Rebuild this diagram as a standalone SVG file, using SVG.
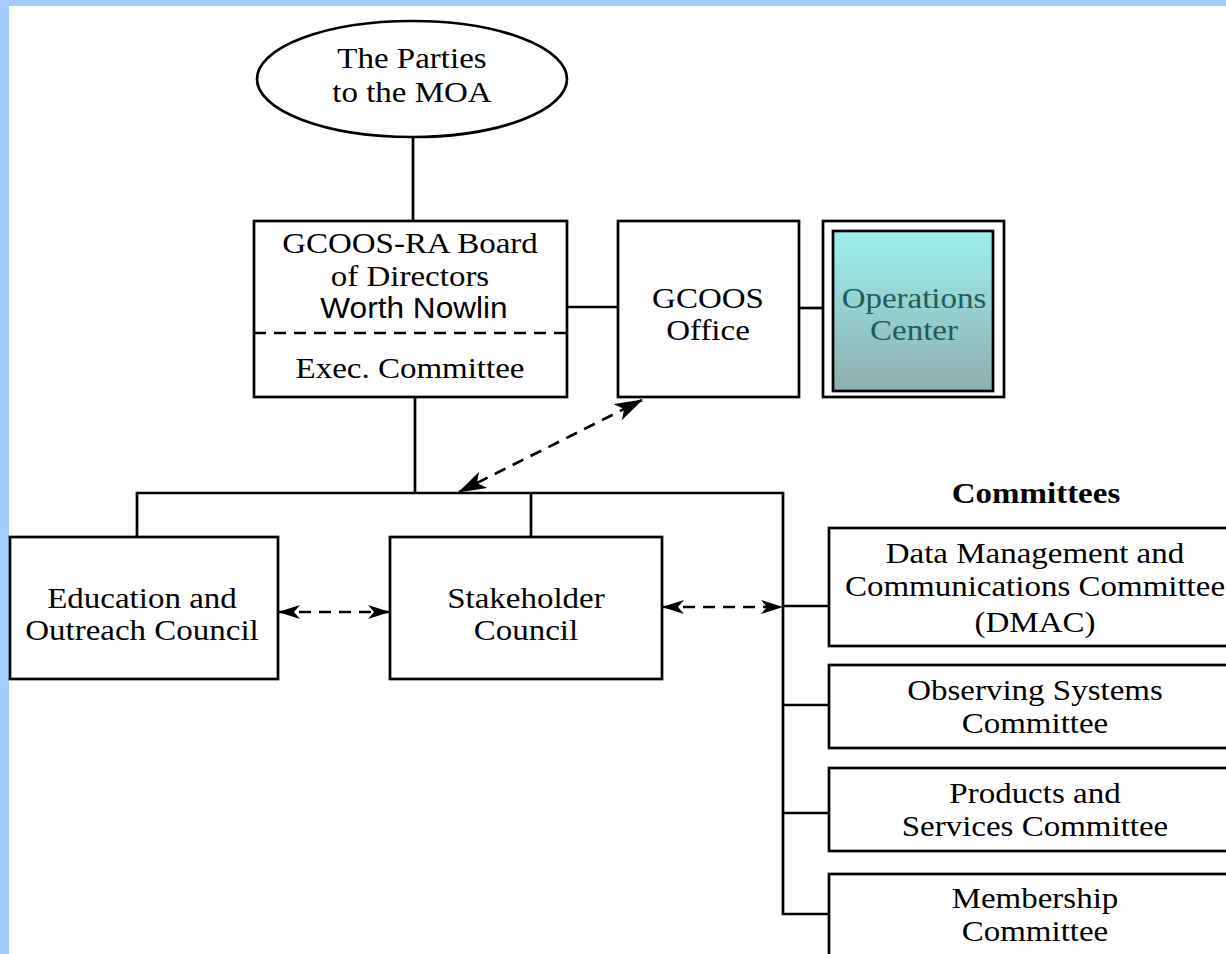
<svg xmlns="http://www.w3.org/2000/svg" width="1226" height="954" viewBox="0 0 1226 954">
<style>
.bx{fill:#fff;stroke:#000;stroke-width:2.7}
.ln{fill:none;stroke:#000;stroke-width:2.7}
.da{fill:none;stroke:#000;stroke-width:2.7;stroke-dasharray:12 8}
.t{font-family:"Liberation Serif","Times New Roman",serif;font-size:30px;fill:#000;text-anchor:middle;transform-box:fill-box;transform-origin:center;transform:scaleX(1.1)}
.s{font-family:"Liberation Sans",Arial,sans-serif;font-size:29px;fill:#000;text-anchor:middle;transform-box:fill-box;transform-origin:center;transform:scaleX(1.09)}
.b{font-weight:bold}
.op{fill:#1f5c5c}
</style>
<defs>
<linearGradient id="g" x1="0" y1="0" x2="0" y2="1">
<stop offset="0" stop-color="#9bf0f0"/>
<stop offset="1" stop-color="#8eafaf"/>
</linearGradient>
<marker id="aL" viewBox="0 0 28 18" markerWidth="28" markerHeight="18" refX="27" refY="9" orient="auto-start-reverse" markerUnits="userSpaceOnUse">
<path d="M0,0 L28,9 L0,18 L7,9 z" fill="#000"/>
</marker>
<marker id="aS" viewBox="0 0 22 14" markerWidth="22" markerHeight="14" refX="21" refY="7" orient="auto-start-reverse" markerUnits="userSpaceOnUse">
<path d="M0,0 L22,7 L0,14 L6,7 z" fill="#000"/>
</marker>
</defs>
<rect x="0" y="0" width="1226" height="954" fill="#fff"/>
<rect x="0" y="0" width="1226" height="6" fill="#a3cdfe"/>
<rect x="0" y="0" width="9" height="954" fill="#a3cdfe"/>

<g id="connectors">
<line class="ln" x1="413" y1="137" x2="413" y2="221"/>
<line class="ln" x1="567" y1="307" x2="618" y2="307"/>
<line class="ln" x1="799" y1="308" x2="823" y2="308"/>
<line class="ln" x1="415" y1="397" x2="415" y2="493"/>
<polyline class="ln" points="137,537 137,493 783,493 783,914 829,914"/>
<line class="ln" x1="531" y1="493" x2="531" y2="537"/>
<line class="ln" x1="783" y1="606" x2="829" y2="606"/>
<line class="ln" x1="783" y1="705" x2="829" y2="705"/>
<line class="ln" x1="783" y1="813" x2="829" y2="813"/>
<line class="da" x1="459" y1="492" x2="642" y2="400" marker-start="url(#aL)" marker-end="url(#aL)"/>
<line class="da" x1="279" y1="612" x2="389" y2="612" marker-start="url(#aS)" marker-end="url(#aS)"/>
<line class="da" x1="663" y1="607" x2="782" y2="607" marker-start="url(#aS)" marker-end="url(#aS)"/>
</g>

<g id="parties">
<ellipse cx="412" cy="79" rx="155" ry="58" class="bx"/>
<text class="t" x="412" y="68">The Parties</text>
<text class="t" x="412" y="102">to the MOA</text>
</g>

<g id="board">
<rect class="bx" x="254" y="221" width="313" height="176"/>
<line class="da" x1="254" y1="333" x2="567" y2="333"/>
<text class="t" x="410" y="253">GCOOS-RA Board</text>
<text class="t" x="410" y="286">of Directors</text>
<text class="s" x="414" y="318">Worth Nowlin</text>
<text class="t" x="410" y="378">Exec. Committee</text>
</g>

<g id="office">
<rect class="bx" x="618" y="221" width="181" height="176"/>
<text class="t" x="708" y="308">GCOOS</text>
<text class="t" x="708" y="340">Office</text>
</g>

<g id="ops">
<rect class="bx" x="823" y="221" width="181" height="176"/>
<rect x="833" y="231" width="160" height="160" fill="url(#g)" stroke="#000" stroke-width="2.7"/>
<text class="t op" x="914" y="308">Operations</text>
<text class="t op" x="914" y="340">Center</text>
</g>

<g id="education">
<rect class="bx" x="10" y="537" width="268" height="142"/>
<text class="t" x="142" y="608">Education and</text>
<text class="t" x="142" y="640">Outreach Council</text>
</g>

<g id="stakeholder">
<rect class="bx" x="390" y="537" width="272" height="142"/>
<text class="t" x="526" y="608">Stakeholder</text>
<text class="t" x="526" y="640">Council</text>
</g>

<g id="committees-title">
<text class="t b" x="1036" y="503">Committees</text>
</g>

<g id="dmac">
<rect class="bx" x="829" y="528" width="420" height="118"/>
<text class="t" x="1035" y="563">Data Management and</text>
<text class="t" x="1035" y="596">Communications Committee</text>
<text class="t" x="1035" y="632">(DMAC)</text>
</g>

<g id="observing">
<rect class="bx" x="829" y="665" width="420" height="83"/>
<text class="t" x="1035" y="700">Observing Systems</text>
<text class="t" x="1035" y="733">Committee</text>
</g>

<g id="products">
<rect class="bx" x="829" y="768" width="420" height="83"/>
<text class="t" x="1035" y="803">Products and</text>
<text class="t" x="1035" y="836">Services Committee</text>
</g>

<g id="membership">
<rect class="bx" x="829" y="874" width="420" height="100"/>
<text class="t" x="1035" y="908">Membership</text>
<text class="t" x="1035" y="941">Committee</text>
</g>
</svg>
